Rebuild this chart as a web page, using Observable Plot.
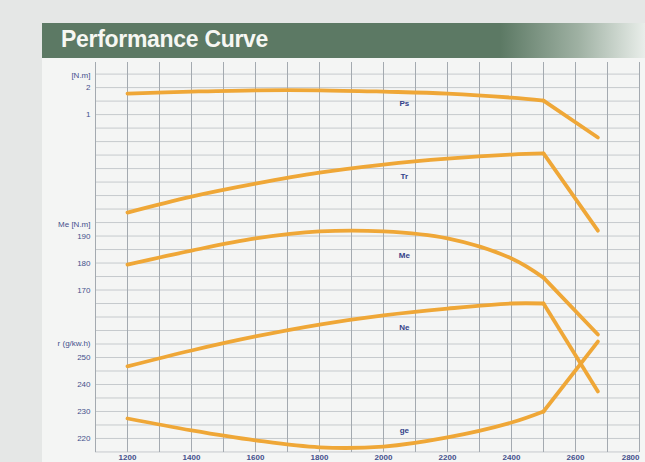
<!DOCTYPE html>
<html><head><meta charset="utf-8">
<script src="https://cdn.jsdelivr.net/npm/d3@7"></script>
<script src="https://cdn.jsdelivr.net/npm/@observablehq/plot@0.6"></script>
<style>
html,body{margin:0;padding:0;background:#e5e7e6;width:645px;height:462px;overflow:hidden;font-family:"Liberation Sans",Arial,sans-serif}
#panel{position:absolute;left:42px;top:58px;width:603px;height:404px;background:#f4f5f4}
#title{position:absolute;left:42px;top:23px;width:603px;height:35px;background:linear-gradient(to right,#5c7964 0%,#5c7964 76%,#9fb1a3 89%,#e9eeea 100%)}
#title span{position:absolute;left:19px;top:3px;color:#f6f7f3;font-weight:bold;font-size:23px;letter-spacing:-0.3px}
#chart{position:absolute;left:0;top:60px}
</style></head><body>
<div id="panel"></div>
<div id="title"><span>Performance Curve</span></div>
<div id="chart"></div>
<script>
// engine speed (rpm)
const rpm = [1200, 1400, 1600, 1800, 2000, 2200, 2400, 2500, 2670];
// curve readings on the shared grid scale
const Ps = [347.8, 348.5, 349.0, 349.0, 348.5, 347.8, 346.3, 345.2, 331.5];
const Tr = [303.7, 309.6, 314.4, 318.5, 321.5, 323.7, 325.2, 325.6, 297.0];
const Me = [284.4, 289.6, 294.1, 296.7, 296.7, 294.1, 286.7, 279.6, 258.5];
const Ne = [246.7, 252.6, 257.8, 262.2, 265.6, 268.1, 270.0, 270.0, 237.4];
const ge = [227.4, 223.0, 219.3, 216.7, 217.0, 220.4, 225.9, 230.0, 255.9];
const seriesNames = ["Ps", "Tr", "Me", "Ne", "ge"];
const seriesValues = [Ps, Tr, Me, Ne, ge];
// curve label positions
const labelRpm = [2065, 2065, 2065, 2065, 2065];
const labelVal = [344.1, 317.0, 287.8, 261.1, 223.0];
// left axis labels
const yTickPos = [354.4, 350, 340, 299.3, 295, 285, 275, 255.2, 250, 240, 230, 220];
const yTickText = ["[N.m]", "2", "1", "Me [N.m]", "190", "180", "170", "r (g/kw.h)", "250", "240", "230", "220"];
const xTicks = [1200, 1400, 1600, 1800, 2000, 2200, 2400, 2600];
const xTicksEdge = [2800];

const kinkIndex = 7;
const smooth = [], tail = [];
seriesNames.forEach((s, k) => {
  seriesValues[k].forEach((v, i) => {
    if (i <= kinkIndex) smooth.push({s, x: rpm[i], y: v});
    if (i >= kinkIndex) tail.push({s, x: rpm[i], y: v});
  });
});
const labels = seriesNames.map((s, k) => ({s, x: labelRpm[k], y: labelVal[k]}));
const tickMap = new Map(yTickPos.map((p, i) => [p, yTickText[i]]));
const axisStyle = {tickSize: 0, tickPadding: 2, tickFormat: d => String(d), fill: "#44518c", fontSize: 8, fontWeight: "bold", label: null};

const chart = Plot.plot({
  width: 645, height: 402,
  marginLeft: 95, marginRight: 6, marginTop: 2, marginBottom: 10,
  style: {background: "transparent", fontFamily: "Liberation Sans, Arial, sans-serif"},
  x: {domain: [1100, 2800]},
  y: {domain: [214.8, 359.3]},
  marks: [
    Plot.gridY(d3.range(215, 360, 5), {stroke: "#c6cacd", strokeOpacity: 1}),
    Plot.gridX(d3.range(1100, 2801, 100), {stroke: "#a4aab0", strokeOpacity: 1}),
    Plot.axisY(yTickPos, {tickSize: 0, tickPadding: 5, tickFormat: d => tickMap.get(d), fill: "#44518c", fontSize: 8, label: null}),
    Plot.axisX(xTicks, axisStyle),
    Plot.axisX(xTicksEdge, {...axisStyle, textAnchor: "end"}),
    Plot.line(smooth, {x: "x", y: "y", z: "s", curve: "catmull-rom", stroke: "#efa737", strokeWidth: 3.8}),
    Plot.line(tail, {x: "x", y: "y", z: "s", stroke: "#efa737", strokeWidth: 3.8}),
    Plot.text(labels, {x: "x", y: "y", text: "s", fill: "#33428a", fontSize: 8, fontWeight: "bold"})
  ]
});
document.getElementById("chart").appendChild(chart);
</script>
</body></html>
